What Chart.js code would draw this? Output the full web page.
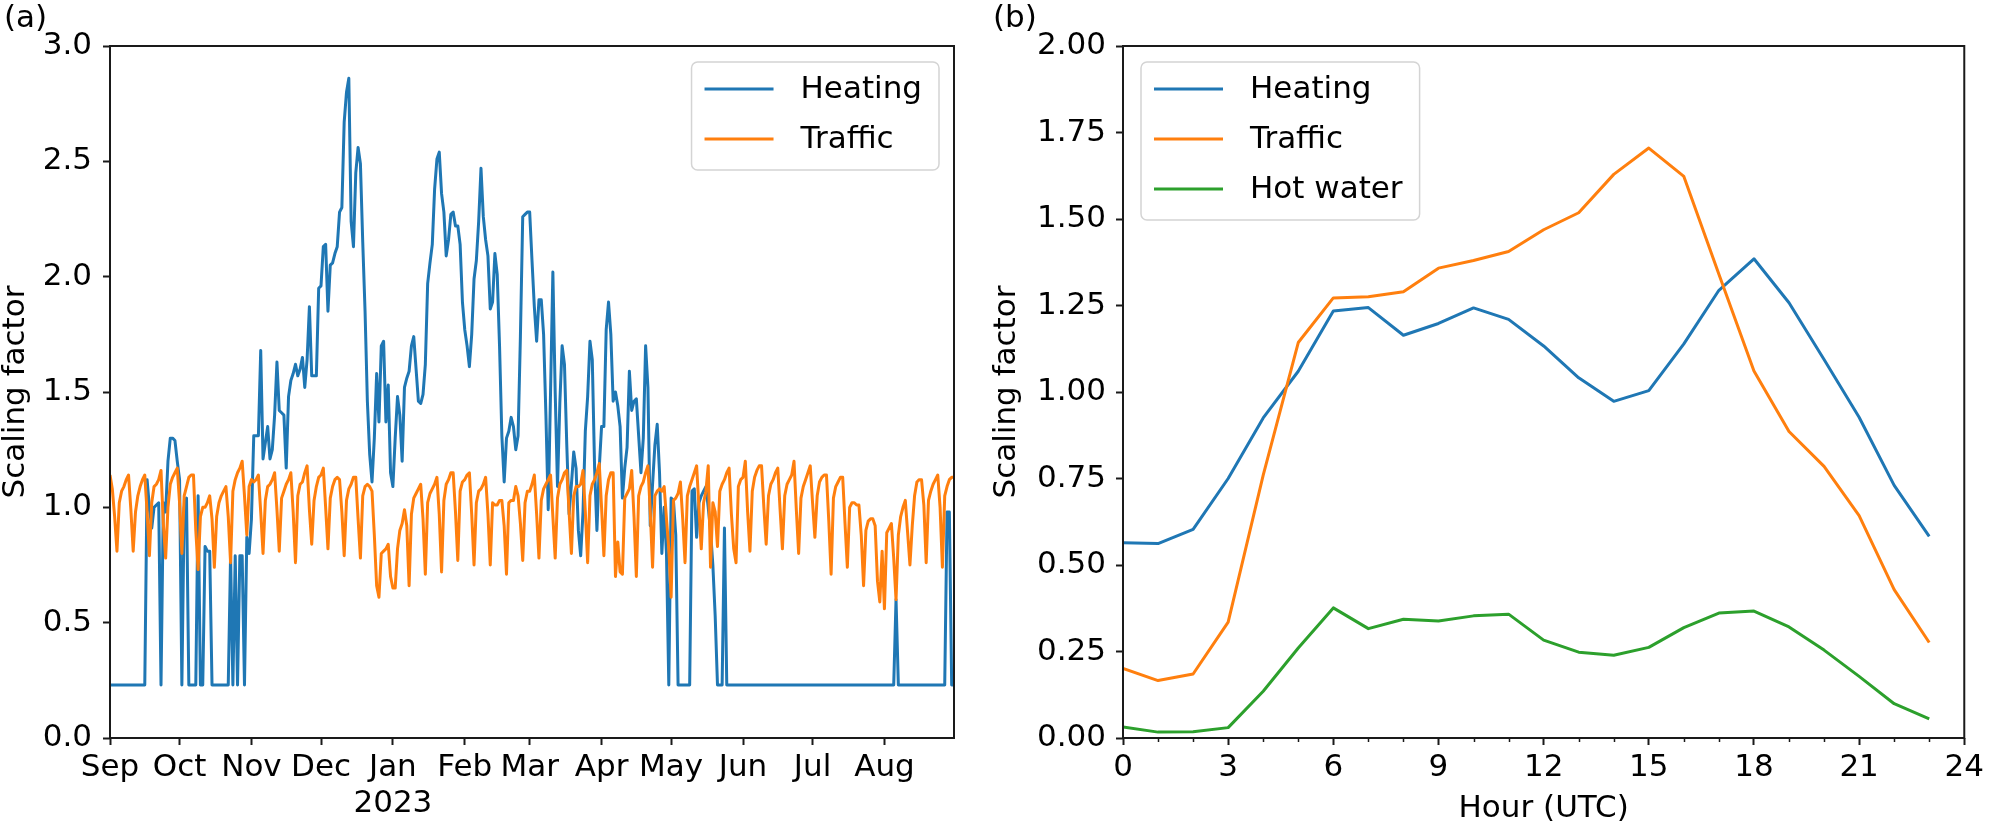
<!DOCTYPE html>
<html>
<head>
<meta charset="utf-8">
<title>Scaling factors</title>
<script src="https://cdn.jsdelivr.net/npm/chart.js@4.4.1/dist/chart.umd.min.js"></script>
<style>
  html, body { margin: 0; padding: 0; background: #fff; }
  #wrap { position: relative; width: 1989px; height: 824px; overflow: hidden; }
  canvas { position: absolute; top: 0; }
  #chartA { left: 0; }
  #chartB { left: 990px; }
  .tag { position: absolute; top: 1px; font: 31px/31px "DejaVu Sans", sans-serif; color: #000; }
</style>
</head>
<body>
<div id="wrap">
  <canvas id="chartA" width="990" height="824"></canvas>
  <canvas id="chartB" width="999" height="824"></canvas>
  <div class="tag" style="left:4px">(a)</div>
  <div class="tag" style="left:993px">(b)</div>
</div>
<script>
// ---- panel (a): daily factors, 1 Sep 2022 .. 31 Aug 2023 (day 0 = 1 Sep) ----
const monthStarts = [0, 30, 61, 91, 122, 153, 181, 212, 242, 273, 303, 334];
const monthLabels = ['Sep', 'Oct', 'Nov', 'Dec', ['Jan', '2023'], 'Feb', 'Mar', 'Apr', 'May', 'Jun', 'Jul', 'Aug'];

const heatingDaily = [
  // Sep
  0.23,0.23,0.23,0.23,0.23,0.23,0.23,0.23,0.23,0.23,0.23,0.23,0.23,0.23,0.23,0.23,
  1.12,1.00,0.91,1.00,1.01,1.02,0.23,1.02,0.98,1.20,1.30,1.30,1.29,1.20,
  // Oct
  1.12,0.23,1.00,1.04,0.23,0.23,0.23,0.23,1.05,0.23,
  0.23,0.83,0.81,0.81,0.23,0.23,0.23,0.23,0.23,0.23,
  0.23,0.23,0.79,0.23,0.79,0.23,0.79,0.79,0.23,0.87,
  0.80,
  // Nov
  0.95,1.31,1.31,1.31,1.68,1.21,1.28,1.35,1.21,1.25,
  1.40,1.63,1.42,1.41,1.40,1.17,1.48,1.55,1.58,1.62,
  1.57,1.60,1.65,1.52,1.64,1.87,1.57,1.57,1.57,1.95,
  // Dec
  1.96,2.13,2.14,1.85,2.05,2.06,2.10,2.13,2.28,2.30,
  2.67,2.80,2.86,2.24,2.13,2.45,2.56,2.49,2.15,1.85,
  1.46,1.23,1.11,1.30,1.58,1.37,1.70,1.72,1.37,1.53,
  1.15,
  // Jan
  1.09,1.30,1.48,1.40,1.20,1.52,1.56,1.59,1.70,1.74,
  1.60,1.46,1.45,1.49,1.62,1.97,2.06,2.14,2.38,2.51,
  2.54,2.36,2.28,2.09,2.16,2.27,2.28,2.22,2.22,2.14,
  1.89,
  // Feb
  1.77,1.70,1.61,1.75,1.99,2.07,2.24,2.47,2.26,2.16,
  2.09,1.86,1.89,2.10,2.01,1.70,1.31,1.11,1.30,1.33,
  1.39,1.35,1.25,1.31,1.74,2.26,2.27,2.28,
  // Mar
  2.28,2.07,1.87,1.72,1.90,1.90,1.75,1.40,0.99,1.50,
  2.02,1.50,1.09,1.45,1.70,1.62,1.27,0.97,1.10,1.24,
  1.17,0.90,0.79,0.98,1.33,1.48,1.72,1.64,1.17,0.90,
  1.17,
  // Apr
  1.35,1.35,1.77,1.89,1.75,1.46,1.50,1.44,1.35,1.04,
  1.17,1.26,1.59,1.42,1.46,1.47,1.31,1.15,1.30,1.70,
  1.52,0.92,1.10,1.27,1.36,1.15,0.80,1.00,0.80,0.23,
  // May
  1.04,1.03,0.88,0.23,0.23,0.23,0.23,0.23,0.23,1.07,
  1.08,0.87,1.02,1.05,1.07,1.09,1.00,0.90,0.75,0.53,
  0.23,0.23,0.23,0.91,0.23,0.23,0.23,0.23,0.23,0.23,
  0.23,
  // Jun
  0.23,0.23,0.23,0.23,0.23,0.23,0.23,0.23,0.23,0.23,
  0.23,0.23,0.23,0.23,0.23,0.23,0.23,0.23,0.23,0.23,
  0.23,0.23,0.23,0.23,0.23,0.23,0.23,0.23,0.23,0.23,
  // Jul
  0.23,0.23,0.23,0.23,0.23,0.23,0.23,0.23,0.23,0.23,
  0.23,0.23,0.23,0.23,0.23,0.23,0.23,0.23,0.23,0.23,
  0.23,0.23,0.23,0.23,0.23,0.23,0.23,0.23,0.23,0.23,
  0.23,
  // Aug
  0.23,0.23,0.23,0.23,0.23,0.60,0.23,0.23,0.23,0.23,
  0.23,0.23,0.23,0.23,0.23,0.23,0.23,0.23,0.23,0.23,
  0.23,0.23,0.23,0.23,0.23,0.23,0.23,0.98,0.98,0.23,
  0.23
];

const trafficDaily = [
  // Thu 1 Sep .. Sun 4 Sep, then one row per week (Mon..Sun)
  1.14,1.08,0.96,0.81,
  1.02,1.07,1.09,1.12,1.14,0.99,0.81,
  0.98,1.05,1.09,1.12,1.14,0.98,0.79,
  1.02,1.09,1.10,1.12,1.16,0.93,0.78,
  1.00,1.10,1.13,1.15,1.17,1.02,0.80,
  1.05,1.09,1.13,1.14,1.14,0.90,0.73,
  0.96,1.00,1.00,1.02,1.05,0.95,0.74,
  0.96,1.02,1.05,1.07,1.09,0.96,0.76,
  1.07,1.12,1.15,1.17,1.20,1.05,0.88,
  1.09,1.12,1.11,1.12,1.14,0.98,0.80,
  1.03,1.09,1.10,1.12,1.15,0.99,0.81,
  1.04,1.07,1.10,1.12,1.15,0.98,0.76,
  1.05,1.10,1.11,1.15,1.18,0.99,0.84,
  1.03,1.09,1.13,1.14,1.17,1.00,0.82,
  1.04,1.09,1.12,1.13,1.12,0.98,0.79,
  1.03,1.08,1.10,1.13,1.13,0.95,0.78,
  1.05,1.09,1.10,1.09,1.07,0.88,0.66,
  0.61,0.80,0.81,0.82,0.84,0.70,0.65,
  0.65,0.82,0.90,0.93,0.99,0.92,0.66,
  0.97,1.04,1.06,1.08,1.10,0.95,0.71,
  1.02,1.06,1.08,1.10,1.13,0.97,0.72,
  1.03,1.10,1.12,1.15,1.15,0.98,0.77,
  1.07,1.11,1.12,1.14,1.15,0.97,0.75,
  1.02,1.07,1.08,1.10,1.13,0.97,0.75,
  1.02,1.01,1.01,1.03,1.03,0.92,0.71,
  1.02,1.03,1.03,1.09,1.05,0.93,0.77,
  1.02,1.07,1.07,1.10,1.14,0.97,0.78,
  1.03,1.08,1.10,1.12,1.14,0.96,0.78,
  1.04,1.10,1.12,1.15,1.16,0.98,0.80,
  1.05,1.09,1.09,1.10,1.16,0.98,0.76,
  1.05,1.10,1.12,1.15,1.19,1.00,0.79,
  1.05,1.12,1.15,1.15,0.70,0.85,0.72,
  0.71,1.04,1.06,1.08,1.16,0.96,0.70,
  1.05,1.09,1.11,1.15,1.18,0.98,0.74,
  1.05,1.07,1.08,1.07,1.09,0.95,0.82,
  0.61,1.03,1.04,1.06,1.11,0.95,0.76,
  1.05,1.09,1.12,1.15,1.18,1.00,0.82,
  1.02,1.07,1.18,0.74,1.02,0.98,0.83,
  1.07,1.10,1.12,1.15,1.17,0.97,0.82,
  0.76,1.09,1.12,1.13,1.20,0.98,0.81,
  1.07,1.13,1.16,1.18,1.18,1.00,0.84,
  1.05,1.10,1.12,1.15,1.17,0.99,0.82,
  1.05,1.10,1.12,1.14,1.20,0.99,0.80,
  1.04,1.09,1.12,1.15,1.18,1.02,0.87,
  1.05,1.11,1.13,1.14,1.14,0.94,0.71,
  1.04,1.09,1.11,1.13,1.13,0.93,0.74,
  1.00,1.02,1.02,1.01,1.01,0.88,0.66,
  0.90,0.94,0.95,0.95,0.92,0.68,0.59,
  0.81,0.56,0.89,0.91,0.93,0.78,0.60,
  // 7 Aug .. 31 Aug
  0.88,0.96,1.00,1.03,0.89,0.75,0.92,1.05,1.11,1.12,
  1.12,1.01,0.76,1.03,1.07,1.10,1.12,1.14,1.00,0.74,
  1.05,1.09,1.12,1.13,1.13
];

// ---- panel (b): mean diurnal profiles ----
const hours = [0, 1, 2, 3, 4, 5, 6, 7, 8, 9, 10, 11, 12, 13, 14, 15, 16, 17, 18, 19, 20, 21, 22, 23];
const heatingHourly = [0.564, 0.562, 0.603, 0.750, 0.925, 1.060, 1.234, 1.244, 1.164, 1.198, 1.243, 1.210,
                       1.133, 1.041, 0.973, 1.004, 1.139, 1.294, 1.385, 1.258, 1.094, 0.927, 0.730, 0.583];
const trafficHourly = [0.201, 0.166, 0.185, 0.335, 0.760, 1.143, 1.272, 1.275, 1.290, 1.358, 1.380, 1.406,
                       1.469, 1.518, 1.629, 1.705, 1.623, 1.340, 1.061, 0.886, 0.785, 0.643, 0.429, 0.276];
const hotWaterHourly = [0.032, 0.017, 0.018, 0.030, 0.135, 0.260, 0.376, 0.316, 0.343, 0.338, 0.353, 0.358,
                        0.283, 0.248, 0.239, 0.262, 0.319, 0.361, 0.367, 0.321, 0.254, 0.178, 0.099, 0.055];

const BLUE = '#1f77b4', ORANGE = '#ff7f0e', GREEN = '#2ca02c', INK = '#1a1a1a';

Chart.defaults.font.family = '"DejaVu Sans", sans-serif';
Chart.defaults.font.size = 31;
Chart.defaults.color = '#000';

// black box round the plot area, like matplotlib spines
const frameBox = {
  id: 'frameBox',
  afterDraw(chart) {
    const { ctx, chartArea: a } = chart;
    ctx.save();
    ctx.strokeStyle = INK;
    ctx.lineWidth = 2;
    ctx.strokeRect(a.left, a.top, a.right - a.left, a.bottom - a.top);
    ctx.restore();
  }
};

// small unlabeled ticks on the x axis
const minorTicks = {
  id: 'minorTicks',
  afterDraw(chart, args, opts) {
    if (!opts.values) return;
    const { ctx, chartArea: a } = chart;
    const sx = chart.scales.x;
    ctx.save();
    ctx.strokeStyle = INK;
    ctx.lineWidth = 1.5;
    opts.values.forEach(v => {
      const px = Math.round(sx.getPixelForValue(v)) + 0.5;
      ctx.beginPath();
      ctx.moveTo(px, a.bottom);
      ctx.lineTo(px, a.bottom + 4);
      ctx.stroke();
    });
    ctx.restore();
  }
};

function roundedBox(ctx, x, y, w, h, r) {
  ctx.beginPath();
  ctx.moveTo(x + r, y);
  ctx.arcTo(x + w, y, x + w, y + h, r);
  ctx.arcTo(x + w, y + h, x, y + h, r);
  ctx.arcTo(x, y + h, x, y, r);
  ctx.arcTo(x, y, x + w, y, r);
  ctx.closePath();
}

// legend drawn inside the plot, from the datasets' own labels and colours
const insetLegend = {
  id: 'insetLegend',
  afterDraw(chart, args, opts) {
    const { ctx, chartArea: a } = chart;
    const items = chart.data.datasets;
    ctx.save();
    ctx.font = '31px "DejaVu Sans", sans-serif';
    const textW = Math.max(...items.map(d => ctx.measureText(d.label).width));
    const w = 13 + 69 + 27 + textW + 17;
    const h = 27 + 50 * (items.length - 1) + 31;
    const x = opts.side === 'right' ? a.right - 15 - w : a.left + 18;
    const y = a.top + 16;
    roundedBox(ctx, x, y, w, h, 6);
    ctx.fillStyle = 'rgba(255,255,255,0.8)';
    ctx.fill();
    ctx.strokeStyle = '#d4d4d4';
    ctx.lineWidth = 1.5;
    ctx.stroke();
    items.forEach((d, i) => {
      const cy = y + 27 + 50 * i;
      ctx.strokeStyle = d.borderColor;
      ctx.lineWidth = 3;
      ctx.beginPath();
      ctx.moveTo(x + 13, cy);
      ctx.lineTo(x + 82, cy);
      ctx.stroke();
      ctx.fillStyle = '#000';
      ctx.textBaseline = 'middle';
      ctx.fillText(d.label, x + 109, cy + 1);
    });
    ctx.restore();
  }
};

function line(label, color, pts, order) {
  return {
    label: label,
    data: pts,
    borderColor: color,
    backgroundColor: color,
    borderWidth: 3,
    pointRadius: 0,
    tension: 0,
    borderJoinStyle: 'round',
    order: order
  };
}

const tickGrid = { drawOnChartArea: false, tickLength: 7, tickWidth: 2, tickColor: INK };

// panel (a)
const ctxA = document.getElementById('chartA').getContext('2d');
new Chart(ctxA, {
  type: 'line',
  data: {
    datasets: [
      line('Heating', BLUE, heatingDaily.map((v, i) => ({ x: i, y: v })), 1),
      line('Traffic', ORANGE, trafficDaily.map((v, i) => ({ x: i, y: v })), 0)
    ]
  },
  options: {
    responsive: false,
    animation: false,
    devicePixelRatio: 1,
    events: [],
    layout: { padding: { top: 46, right: 36, bottom: 0, left: 0 } },
    plugins: {
      legend: { display: false },
      tooltip: { enabled: false },
      insetLegend: { side: 'right' }
    },
    scales: {
      x: {
        type: 'linear',
        min: 0,
        max: 364,
        afterBuildTicks: s => { s.ticks = monthStarts.map(v => ({ value: v })); },
        afterFit: s => { s.height = 86; },
        grid: tickGrid,
        border: { display: false },
        ticks: {
          autoSkip: false,
          maxRotation: 0,
          padding: 5,
          font: { size: 31, lineHeight: 1.15 },
          callback: (v, i) => monthLabels[i]
        }
      },
      y: {
        min: 0,
        max: 3,
        afterFit: s => { s.width = 110; },
        grid: tickGrid,
        border: { display: false },
        ticks: { stepSize: 0.5, padding: 11, callback: v => v.toFixed(1) },
        title: { display: true, text: 'Scaling factor', padding: 0, font: { size: 31, lineHeight: 1 } }
      }
    }
  },
  plugins: [frameBox, insetLegend]
});

// panel (b)
const ctxB = document.getElementById('chartB').getContext('2d');
new Chart(ctxB, {
  type: 'line',
  data: {
    datasets: [
      line('Heating', BLUE, hours.map((h, i) => ({ x: h, y: heatingHourly[i] })), 2),
      line('Traffic', ORANGE, hours.map((h, i) => ({ x: h, y: trafficHourly[i] })), 1),
      line('Hot water', GREEN, hours.map((h, i) => ({ x: h, y: hotWaterHourly[i] })), 0)
    ]
  },
  options: {
    responsive: false,
    animation: false,
    devicePixelRatio: 1,
    events: [],
    layout: { padding: { top: 46, right: 20, bottom: 0, left: 0 } },
    plugins: {
      legend: { display: false },
      tooltip: { enabled: false },
      insetLegend: { side: 'left' },
      minorTicks: { values: [1, 2, 4, 5, 7, 8, 10, 11, 13, 14, 16, 17, 19, 20, 22, 23] }
    },
    scales: {
      x: {
        type: 'linear',
        min: 0,
        max: 24,
        afterFit: s => { s.height = 86; },
        grid: tickGrid,
        border: { display: false },
        ticks: { stepSize: 3, autoSkip: false, maxRotation: 0, padding: 5, font: { size: 31, lineHeight: 1.15 } },
        title: { display: true, text: 'Hour (UTC)', padding: 0, font: { size: 31, lineHeight: 1 } }
      },
      y: {
        min: 0,
        max: 2,
        afterFit: s => { s.width = 133; },
        grid: tickGrid,
        border: { display: false },
        ticks: { stepSize: 0.25, padding: 10, callback: v => v.toFixed(2) },
        title: { display: true, text: 'Scaling factor', padding: { top: 1.5, bottom: 0 }, font: { size: 31, lineHeight: 1 } }
      }
    }
  },
  plugins: [frameBox, minorTicks, insetLegend]
});
</script>
</body>
</html>
